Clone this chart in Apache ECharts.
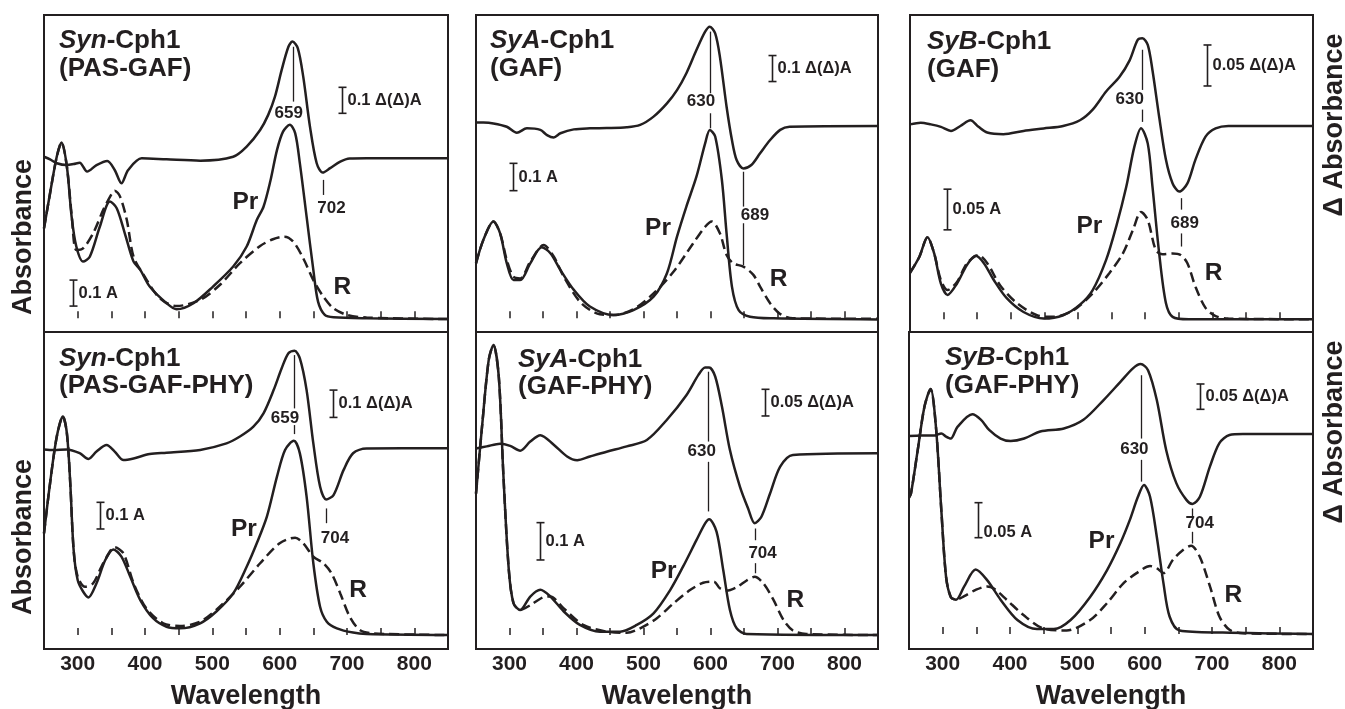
<!DOCTYPE html>
<html><head><meta charset="utf-8">
<script src="https://cdn.jsdelivr.net/npm/echarts@6/dist/echarts.min.js"></script>
<style>html,body{margin:0;padding:0;background:#fff}#c{width:1345px;height:709px}</style>
</head><body><div id="c"></div>
<script>
// ---------------- DATA (wavelength nm, value) ----------------
// Syn-Cph1 (PAS-GAF)
const synPG_diff = [[250,0.006],[259,-0.004],[269,-0.019],[284,-0.026],[294,-0.022],[303,-0.017],[314,-0.051],[328,-0.026],[344,-0.010],[355,-0.045],[365,-0.096],[375,-0.045],[395,0],[432,-0.004],[482,-0.009],[531,0.006],[551,0.045],[571,0.109],[583,0.167],[593,0.237],[603,0.340],[613,0.429],[619,0.449],[627,0.423],[635,0.314],[645,0.122],[655,-0.019],[664,-0.055],[675,-0.038],[690,-0.013],[704,-0.001],[729,0],[850,0]];
const synPG_pr = [[250,0.346],[259,0.481],[269,0.622],[276,0.676],[284,0.583],[291,0.391],[298,0.276],[308,0.218],[318,0.237],[333,0.353],[348,0.449],[358,0.423],[370,0.327],[383,0.218],[393,0.186],[407,0.122],[432,0.058],[447,0.035],[472,0.058],[501,0.122],[531,0.199],[551,0.276],[566,0.378],[576,0.429],[586,0.526],[596,0.647],[605,0.718],[615,0.744],[623,0.712],[630,0.596],[640,0.391],[650,0.186],[657,0.064],[667,0.013],[680,0.004],[729,0],[850,-0.003]];
const synPG_r = [[250,0.346],[259,0.481],[269,0.622],[276,0.676],[284,0.583],[291,0.400],[298,0.263],[308,0.269],[323,0.327],[338,0.417],[351,0.481],[355,0.491],[363,0.468],[373,0.378],[383,0.237],[398,0.167],[422,0.077],[447,0.047],[482,0.071],[511,0.128],[541,0.212],[571,0.278],[590,0.304],[607,0.314],[620,0.295],[635,0.231],[650,0.147],[665,0.083],[680,0.038],[700,0.013],[729,0.003],[850,-0.003]];
// SyA-Cph1 (GAF)
const syaG_diff = [[250,0.013],[261,0.013],[276,0.010],[296,-0.003],[311,-0.026],[326,-0.009],[346,-0.015],[356,-0.035],[366,-0.044],[376,-0.028],[396,-0.013],[420,-0.009],[445,-0.008],[475,-0.005],[495,0.004],[515,0.036],[535,0.087],[550,0.138],[564,0.203],[579,0.292],[592,0.363],[599,0.382],[607,0.356],[614,0.267],[624,0.074],[632,-0.054],[639,-0.131],[649,-0.163],[661,-0.150],[674,-0.105],[689,-0.054],[704,-0.015],[718,-0.003],[850,0]];
const syaG_pr = [[250,0.201],[261,0.287],[276,0.354],[286,0.311],[296,0.201],[306,0.140],[316,0.140],[331,0.201],[348,0.260],[361,0.238],[376,0.177],[396,0.104],[420,0.043],[455,0.012],[485,0.030],[515,0.079],[535,0.165],[550,0.299],[564,0.409],[579,0.518],[592,0.640],[599,0.689],[607,0.665],[617,0.506],[624,0.311],[632,0.116],[642,0.030],[659,0.006],[694,0],[850,-0.004]];
const syaG_r = [[250,0.201],[261,0.287],[276,0.354],[286,0.311],[296,0.213],[306,0.152],[316,0.146],[331,0.207],[351,0.268],[366,0.226],[381,0.152],[405,0.061],[430,0.018],[455,0.012],[485,0.033],[515,0.091],[545,0.171],[574,0.274],[592,0.335],[602,0.354],[614,0.311],[624,0.232],[634,0.201],[649,0.189],[664,0.159],[674,0.116],[689,0.055],[704,0.016],[723,0],[850,-0.002]];
// SyB-Cph1 (GAF)
const sybG_diff = [[250,0.002],[266,0.004],[281,0.002],[296,-0.001],[311,-0.006],[325,0],[340,0.007],[352,-0.001],[365,-0.008],[389,-0.010],[419,-0.006],[449,-0.003],[478,0],[503,0.007],[522,0.020],[542,0.042],[562,0.060],[577,0.080],[589,0.105],[596,0.107],[604,0.099],[611,0.068],[621,0.011],[631,-0.041],[641,-0.070],[651,-0.080],[663,-0.070],[675,-0.041],[690,-0.013],[705,-0.003],[724,0],[850,0]];
const sybG_pr = [[250,0.057],[264,0.077],[276,0.101],[286,0.081],[296,0.044],[306,0.030],[320,0.044],[335,0.067],[348,0.078],[360,0.069],[375,0.048],[394,0.026],[419,0.009],[449,0.001],[478,0.005],[503,0.018],[522,0.036],[542,0.073],[557,0.114],[572,0.163],[584,0.212],[594,0.235],[604,0.216],[611,0.163],[621,0.081],[631,0.020],[641,0.003],[665,0],[850,0]];
const sybG_r = [[250,0.057],[264,0.077],[276,0.101],[286,0.081],[296,0.048],[306,0.036],[320,0.046],[335,0.069],[352,0.079],[365,0.069],[384,0.042],[409,0.020],[439,0.005],[463,0.003],[493,0.011],[522,0.032],[547,0.057],[567,0.081],[582,0.110],[594,0.132],[604,0.122],[616,0.085],[626,0.080],[641,0.081],[653,0.079],[663,0.069],[675,0.040],[690,0.014],[705,0.004],[724,0.001],[850,0]];
// Syn-Cph1 (PAS-GAF-PHY)
const synPGP_diff = [[250,-0.004],[264,-0.006],[284,-0.004],[303,-0.018],[316,-0.039],[328,-0.012],[343,0.012],[355,-0.012],[368,-0.043],[383,-0.037],[407,-0.021],[432,-0.016],[482,-0.006],[521,0.018],[541,0.043],[561,0.079],[576,0.128],[591,0.213],[603,0.293],[613,0.348],[622,0.357],[630,0.329],[640,0.213],[650,0.018],[660,-0.140],[669,-0.187],[680,-0.171],[695,-0.079],[709,-0.018],[729,-0.001],[850,0]];
const synPGP_pr = [[250,0.381],[259,0.569],[269,0.744],[278,0.819],[284,0.756],[289,0.569],[294,0.319],[300,0.206],[308,0.163],[316,0.141],[328,0.194],[341,0.281],[353,0.321],[365,0.294],[378,0.219],[393,0.131],[412,0.063],[432,0.031],[452,0.025],[482,0.044],[506,0.088],[531,0.156],[551,0.256],[566,0.344],[581,0.444],[596,0.594],[608,0.694],[621,0.728],[630,0.681],[640,0.519],[650,0.269],[660,0.106],[670,0.050],[685,0.025],[709,0.009],[729,0.004],[850,0]];
const synPGP_r = [[250,0.381],[259,0.569],[269,0.744],[278,0.819],[284,0.756],[289,0.569],[294,0.319],[300,0.219],[311,0.181],[323,0.194],[338,0.269],[355,0.329],[368,0.306],[383,0.194],[402,0.100],[427,0.044],[452,0.034],[482,0.050],[511,0.106],[541,0.181],[571,0.269],[600,0.344],[623,0.365],[635,0.344],[650,0.294],[665,0.269],[677,0.231],[690,0.156],[704,0.069],[719,0.019],[739,0.006],[850,0]];
// SyA-Cph1 (GAF-PHY)
const syaGP_diff = [[250,0.009],[266,0.013],[286,0.018],[301,0.014],[316,0.005],[331,0.022],[346,0.034],[366,0.016],[386,-0.006],[401,-0.013],[420,-0.006],[445,0.003],[475,0.013],[505,0.025],[535,0.063],[564,0.109],[582,0.147],[592,0.161],[598,0.161],[607,0.144],[617,0.088],[629,0.006],[644,-0.063],[656,-0.103],[666,-0.131],[676,-0.119],[689,-0.075],[704,-0.025],[723,-0.003],[850,0]];
const syaGP_pr = [[250,0.379],[259,0.558],[269,0.737],[276,0.777],[284,0.692],[291,0.424],[299,0.174],[306,0.085],[316,0.067],[331,0.103],[346,0.121],[361,0.103],[381,0.063],[405,0.027],[435,0.009],[465,0.009],[490,0.027],[515,0.058],[540,0.121],[559,0.183],[579,0.254],[592,0.299],[598,0.310],[609,0.277],[619,0.174],[629,0.067],[639,0.018],[654,0.003],[850,0]];
const syaGP_r = [[250,0.379],[259,0.558],[269,0.737],[276,0.777],[284,0.692],[291,0.424],[299,0.174],[306,0.085],[316,0.067],[331,0.080],[350,0.101],[361,0.103],[381,0.071],[410,0.027],[445,0.009],[475,0.006],[495,0.018],[520,0.045],[545,0.085],[570,0.121],[589,0.140],[605,0.143],[614,0.125],[624,0.119],[639,0.128],[654,0.146],[666,0.156],[679,0.138],[694,0.094],[709,0.040],[723,0.012],[743,0.003],[850,0]];
// SyB-Cph1 (GAF-PHY)
const sybGP_diff = [[250,-0.004],[268,-0.003],[288,-0.003],[298,0.001],[305,-0.005],[312,-0.009],[322,0.014],[344,0.039],[357,0.028],[369,0.008],[386,-0.009],[401,-0.014],[421,-0.009],[445,0.005],[480,0.011],[509,0.028],[539,0.067],[564,0.103],[583,0.130],[594,0.138],[605,0.126],[618,0.067],[632,-0.032],[647,-0.097],[662,-0.130],[671,-0.138],[682,-0.124],[697,-0.064],[711,-0.018],[726,-0.002],[746,0],[850,0]];
const sybGP_pr = [[250,0.195],[253,0.201],[263,0.263],[273,0.325],[282,0.350],[290,0.296],[298,0.177],[305,0.082],[312,0.053],[320,0.049],[332,0.068],[349,0.092],[366,0.077],[386,0.049],[411,0.020],[440,0.007],[465,0.007],[490,0.020],[519,0.053],[544,0.091],[564,0.130],[578,0.163],[590,0.196],[599,0.213],[608,0.196],[618,0.139],[628,0.072],[637,0.025],[652,0.005],[716,0.002],[850,0]];
const sybGP_r = [[250,0.195],[253,0.201],[263,0.263],[273,0.325],[282,0.350],[290,0.296],[298,0.177],[305,0.082],[312,0.053],[320,0.049],[332,0.054],[349,0.063],[366,0.068],[376,0.065],[395,0.049],[420,0.027],[449,0.008],[484,0.005],[519,0.020],[544,0.044],[568,0.072],[588,0.087],[608,0.097],[618,0.094],[628,0.087],[642,0.106],[657,0.120],[669,0.126],[682,0.110],[697,0.068],[711,0.025],[726,0.006],[746,0.001],[850,0]];

const xTickLabels = [300, 400, 500, 600, 700, 800];
const panelTitles = [
  ['{i|Syn}-Cph1', '(PAS-GAF)'],
  ['{i|SyA}-Cph1', '(GAF)'],
  ['{i|SyB}-Cph1', '(GAF)'],
  ['{i|Syn}-Cph1', '(PAS-GAF-PHY)'],
  ['{i|SyA}-Cph1', '(GAF-PHY)'],
  ['{i|SyB}-Cph1', '(GAF-PHY)']
];
const panels = [
  {diff: synPG_diff, pr: synPG_pr, r: synPG_r},
  {diff: syaG_diff, pr: syaG_pr, r: syaG_r},
  {diff: sybG_diff, pr: sybG_pr, r: sybG_r},
  {diff: synPGP_diff, pr: synPGP_pr, r: synPGP_r},
  {diff: syaGP_diff, pr: syaGP_pr, r: syaGP_r},
  {diff: sybGP_diff, pr: sybGP_pr, r: sybGP_r}
];
// scale bars (value units) and peak labels
const scaleBars = [
  {d: {x: 692, top: 0.273, len: 0.1, label: '0.1 Δ(Δ)A'}, a: {x: 292.6, top: 0.147, len: 0.1, label: '0.1 A'}},
  {d: {x: 691.1, top: 0.271, len: 0.1, label: '0.1 Δ(Δ)A'}, a: {x: 305.1, top: 0.567, len: 0.1, label: '0.1 A'}},
  {d: {x: 692.2, top: 0.0988, len: 0.05, label: '0.05 Δ(Δ)A'}, a: {x: 304.5, top: 0.160, len: 0.05, label: '0.05 A'}},
  {d: {x: 679.7, top: 0.213, len: 0.1, label: '0.1 Δ(Δ)A'}, a: {x: 333.2, top: 0.4975, len: 0.1, label: '0.1 A'}},
  {d: {x: 681.2, top: 0.12, len: 0.05, label: '0.05 Δ(Δ)A'}, a: {x: 344.9, top: 0.301, len: 0.1, label: '0.1 A'}},
  {d: {x: 681.8, top: 0.0987, len: 0.05, label: '0.05 Δ(Δ)A'}, a: {x: 352.7, top: 0.1876, len: 0.05, label: '0.05 A', labelY: 0.1448}}
];
const peakMarks = [
  [{x: 619.3, segs: [[0.429, 0.218]], text: '659', tx: 613.4, ty: 0.173},
   {x: 663.9, segs: [[-0.083, -0.141]], text: '702', tx: 677, ty: -0.192}],
  [{x: 599.2, segs: [[0.363, 0.126], [0.049, -0.009]], text: '630', tx: 585.8, ty: 0.094},
   {x: 648.9, segs: [[-0.176, -0.310], [-0.374, -0.535]], text: '689', tx: 666.3, ty: -0.342}],
  [{x: 595.6, segs: [[0.093, 0.044], [0.020, 0.005]], text: '630', tx: 577.2, ty: 0.032},
   {x: 653.1, segs: [[-0.088, -0.102], [-0.131, -0.147]], text: '689', tx: 659, ty: -0.119}],
  [{x: 621.8, segs: [[0.341, 0.146], [0.085, 0.052]], text: '659', tx: 607.9, ty: 0.110},
   {x: 668.3, segs: [[-0.220, -0.274]], text: '704', tx: 682.2, ty: -0.329}],
  [{x: 596.7, segs: [[0.153, 0.022], [-0.016, -0.109]], text: '630', tx: 586.8, ty: 0.003},
   {x: 666.3, segs: [[-0.141, -0.163], [-0.206, -0.225]], text: '704', tx: 677.7, ty: -0.1875}],
  [{x: 594.1, segs: [[0.116, -0.009], [-0.051, -0.094]], text: '630', tx: 584.7, ty: -0.030},
   {x: 670.9, segs: [[-0.147, -0.163], [-0.193, -0.216]], text: '704', tx: 681.8, ty: -0.176}]
];
const curveLabels = [
  {pr: [530, 0.446], r: [680, 0.119]},
  {pr: [502.4, 0.329], r: [688.6, 0.143]},
  {pr: [497.9, 0.115], r: [688.8, 0.057]},
  {pr: [527.7, 0.398], r: [703.5, 0.166]},
  {pr: [510.8, 0.172], r: [713.5, 0.092]},
  {pr: [516.7, 0.132], r: [718.7, 0.0548]}
];

// ---------------- LAYOUT ----------------
const layout = [
  {left: 44, top: 15, width: 404, height: 317, zeroA: 303.3, pxA: 260, zeroD: 143.3, pxD: 260, tdx: 15, tdy: 26, bottom: false},
  {left: 476, top: 15, width: 402, height: 317, zeroA: 303.3, pxA: 273.3, zeroD: 111, pxD: 260, tdx: 14, tdy: 26, bottom: false},
  {left: 910, top: 15, width: 403, height: 317, zeroA: 304.3, pxA: 813.3, zeroD: 111, pxD: 820, tdx: 17, tdy: 27, bottom: false},
  {left: 44, top: 332, width: 404, height: 317, zeroA: 303, pxA: 266.7, zeroD: 116.3, pxD: 273.3, tdx: 15, tdy: 26.5, bottom: true},
  {left: 476, top: 332, width: 402, height: 317, zeroA: 303, pxA: 373.3, zeroD: 121.3, pxD: 533.3, tdx: 42, tdy: 27.5, bottom: true},
  {left: 909, top: 332, width: 404, height: 317, zeroA: 302, pxA: 700, zeroD: 102, pxD: 506.7, tdx: 36, tdy: 26, bottom: true}
];
const INK = '#231f20';
const FONT = '"Liberation Sans", Arial, Helvetica, sans-serif';

const grid = [], xAxis = [], yAxis = [], series = [];
layout.forEach((L, i) => {
  grid.push({left: L.left, top: L.top, width: L.width, height: L.height, show: true, borderColor: INK, borderWidth: 2, backgroundColor: 'transparent'});
  xAxis.push({
    gridIndex: i, type: 'value', min: 250, max: 850, interval: 50,
    axisLine: {show: false}, splitLine: {show: false},
    axisTick: {show: true, inside: true, length: 7, lineStyle: {color: INK, width: 1.5}},
    axisLabel: {show: L.bottom, margin: 5, fontSize: 21, fontWeight: 'bold', fontFamily: FONT, color: INK,
      formatter: v => xTickLabels.includes(v) ? String(v) : ''}
  });
  yAxis.push({gridIndex: i, type: 'value', show: false, min: -(L.height - L.zeroA) / L.pxA, max: L.zeroA / L.pxA});
  yAxis.push({gridIndex: i, type: 'value', show: false, min: -(L.height - L.zeroD) / L.pxD, max: L.zeroD / L.pxD});
  const mk = (data, yi, dash) => ({
    type: 'line', xAxisIndex: i, yAxisIndex: yi, data, showSymbol: false, symbol: 'none',
    smooth: 0.3, silent: true, animation: false,
    lineStyle: {color: INK, width: 2.5, type: dash ? [10, 5] : 'solid', cap: 'butt'}
  });
  series.push(mk(panels[i].diff, 2 * i + 1, false));
  series.push(mk(panels[i].pr, 2 * i, false));
  series.push(mk(panels[i].r, 2 * i, true));
});

const chart = echarts.init(document.getElementById('c'), null, {renderer: 'canvas'});
chart.setOption({backgroundColor: '#fff', animation: false, grid, xAxis, yAxis, series});

// ---------------- ANNOTATIONS ----------------
const g = [];
function txt(x, y, text, size, align, extra) {
  const el = {type: 'text', x, y, silent: true, z: 100,
    style: Object.assign({text, fill: INK, fontFamily: FONT, fontSize: size, fontWeight: 'bold',
      align: align, verticalAlign: 'middle', textAlign: align, textVerticalAlign: 'middle'}, extra || {})};
  return el;
}
function seg(x1, y1, x2, y2, w) {
  return {type: 'line', silent: true, z: 100, shape: {x1, y1, x2, y2}, style: {stroke: INK, lineWidth: w}};
}
function bar(si, b, size) {
  const p1 = chart.convertToPixel({seriesIndex: si}, [b.x, b.top]);
  const p2 = chart.convertToPixel({seriesIndex: si}, [b.x, b.top - b.len]);
  const x = Math.round(p1[0]) + 0.5;
  g.push(seg(x, p1[1], x, p2[1], 1.6));
  g.push(seg(x - 4, p1[1], x + 4, p1[1], 1.6));
  g.push(seg(x - 4, p2[1], x + 4, p2[1], 1.6));
  const ly = b.labelY !== undefined ? chart.convertToPixel({seriesIndex: si}, [b.x, b.labelY])[1] : (p1[1] + p2[1]) / 2;
  g.push(txt(x + 5, ly, b.label, size, 'left'));
}
layout.forEach((L, i) => {
  const sD = 3 * i, sA = 3 * i + 1;
  g.push(txt(L.left + L.tdx, L.top + L.tdy, panelTitles[i][0], 26, 'left',
    {rich: {i: {fontStyle: 'italic', fontWeight: 'bold', fontSize: 26, fontFamily: FONT, fill: INK}}}));
  g.push(txt(L.left + L.tdx, L.top + L.tdy + 27.5, panelTitles[i][1], 26, 'left'));
  bar(sD, scaleBars[i].d, 16.5);
  bar(sA, scaleBars[i].a, 16.5);
  peakMarks[i].forEach(m => {
    m.segs.forEach(s => {
      const a = chart.convertToPixel({seriesIndex: sD}, [m.x, s[0]]);
      const b = chart.convertToPixel({seriesIndex: sD}, [m.x, s[1]]);
      const x = Math.round(a[0]) + 0.5;
      g.push(seg(x, a[1], x, b[1], 1.3));
    });
    const t = chart.convertToPixel({seriesIndex: sD}, [m.tx, m.ty]);
    g.push(txt(t[0], t[1], m.text, 17, 'center'));
  });
  const pp = chart.convertToPixel({seriesIndex: sA}, curveLabels[i].pr);
  g.push(txt(pp[0], pp[1], 'Pr', 24.5, 'left'));
  const rp = chart.convertToPixel({seriesIndex: sA}, curveLabels[i].r);
  g.push(txt(rp[0], rp[1], 'R', 24.5, 'left'));
  if (L.bottom) g.push(txt(L.left + L.width / 2, 697, 'Wavelength', 27, 'center'));
});
g.push(Object.assign(txt(24, 237, 'Absorbance', 27, 'center'), {rotation: Math.PI / 2}));
g.push(Object.assign(txt(24, 537, 'Absorbance', 27, 'center'), {rotation: Math.PI / 2}));
g.push(Object.assign(txt(1335, 125, 'Δ Absorbance', 27, 'center'), {rotation: Math.PI / 2}));
g.push(Object.assign(txt(1335, 432, 'Δ Absorbance', 27, 'center'), {rotation: Math.PI / 2}));

chart.setOption({graphic: {elements: g}});
</script></body></html>
